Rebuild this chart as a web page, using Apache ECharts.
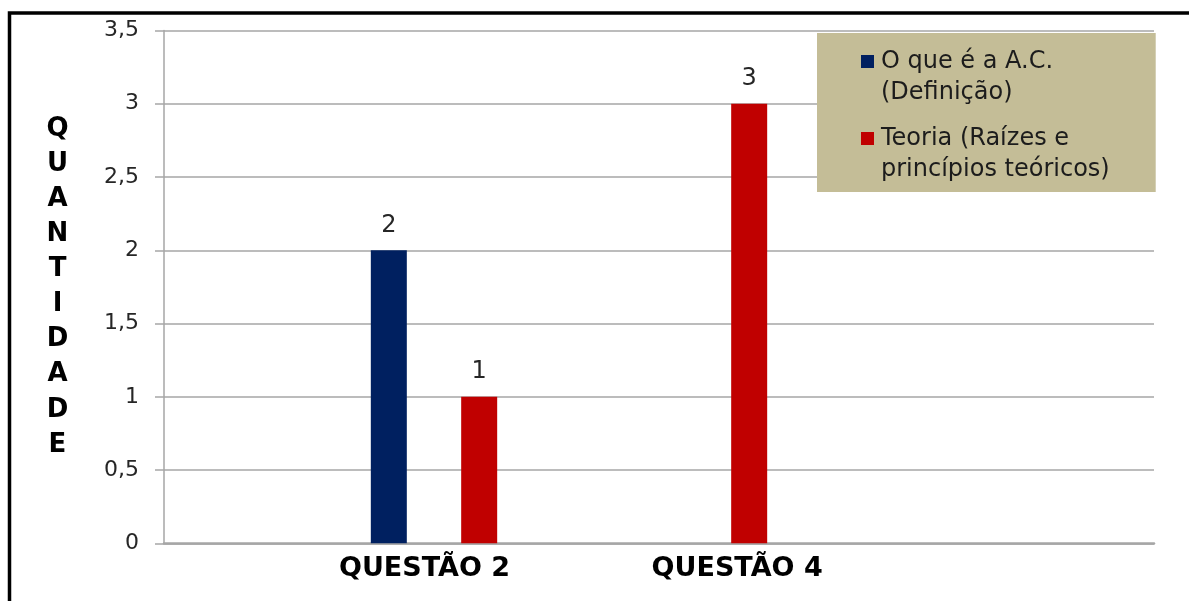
<!DOCTYPE html>
<html>
<head>
<meta charset="utf-8">
<script src="https://cdn.jsdelivr.net/npm/echarts@6/dist/echarts.min.js"></script>
<style>
  html, body { margin: 0; padding: 0; background: #ffffff; }
  #chart { width: 1189px; height: 601px; }
</style>
</head>
<body>
<div id="chart"></div>
<script>
// ---- data ----
const categories = ['QUESTÃO 2', 'QUESTÃO 4'];
const seriesNames = ['O que é a A.C. (Definição)', 'Teoria (Raízes e princípios teóricos)'];
const definicao = [2, null];   // no bar for QUESTÃO 4
const teoria = [1, 3];
const legendLines = [
  ['O que é a A.C.', '(Definição)'],
  ['Teoria (Raízes e', 'princípios teóricos)']
];
const axisTitle = 'QUANTIDADE';
const yMin = 0, yMax = 3.5, yStep = 0.5;

// ---- layout helpers: slot grids along the x axis ----
const BAR_SLOTS = 12;          // bar axis: slot positions of each category group
const BAR_AT = [3, 6];
const LABEL_SLOTS = 20;        // label axis: slot positions of each category label
const LABEL_AT = [5, 11];

const COLORS = ['#002060', '#c00000'];
const FONT = "'DejaVu Sans', 'Liberation Sans', Arial, sans-serif";
const GRID_COLOR = '#a6a6a6';

const barAxisData = Array.from({ length: BAR_SLOTS }, () => '');
const labelAxisData = Array.from({ length: LABEL_SLOTS }, (_, i) => {
  const k = LABEL_AT.indexOf(i);
  return k >= 0 ? categories[k] : '';
});

function toPairs(values) {
  return values.map((v, i) => [BAR_AT[i], v]);
}

const valueLabel = {
  show: true,
  position: 'top',
  distance: 13,
  fontFamily: FONT,
  fontSize: 24,
  color: '#262626',
  formatter: p => String(p.value[1]).replace('.', ',')
};

const richLegend = {
  t: { fontFamily: FONT, fontSize: 24, color: '#1c1c1c', lineHeight: 31, verticalAlign: 'middle' },
  g: { width: 7, height: 13, lineHeight: 31 },
  ind: { width: 20, height: 13, lineHeight: 31 },
  sq0: { width: 13, height: 13, backgroundColor: COLORS[0], verticalAlign: 'middle' },
  sq1: { width: 13, height: 13, backgroundColor: COLORS[1], verticalAlign: 'middle' }
};

const chart = echarts.init(document.getElementById('chart'), null, { renderer: 'canvas' });

chart.setOption({
  animation: false,
  backgroundColor: '#ffffff',
  grid: {
    left: 164, right: 35, top: 30.5, bottom: 57.7,
    containLabel: false,
    outerBoundsMode: 'none'
  },
  legend: {
    orient: 'vertical',
    left: 817,
    top: 33,
    itemWidth: 0,
    itemHeight: 0,
    itemGap: 15,
    padding: [13, 46, 7, 39],
    backgroundColor: '#c4bd97',
    selectedMode: false,
    data: seriesNames,
    formatter: name => {
      const k = seriesNames.indexOf(name);
      const [l1, l2] = legendLines[k];
      return `{sq${k}|}{g|}{t|${l1}}\n{ind|}{t|${l2}}`;
    },
    textStyle: { fontFamily: FONT, fontSize: 24, color: '#1c1c1c', lineHeight: 31, rich: richLegend }
  },
  xAxis: [
    {
      // bar placement axis
      type: 'category',
      position: 'top',
      data: barAxisData,
      boundaryGap: false,
      axisLine: { show: false },
      axisTick: { show: false },
      axisLabel: { show: false },
      splitLine: { show: false }
    },
    {
      // category label axis
      type: 'category',
      position: 'bottom',
      data: labelAxisData,
      boundaryGap: false,
      axisLine: { show: true, lineStyle: { color: GRID_COLOR, width: 2.5 } },
      axisTick: { show: false },
      splitLine: { show: false },
      axisLabel: {
        interval: 0,
        margin: 12,
        fontFamily: FONT,
        fontSize: 27,
        fontWeight: 'bold',
        color: '#000000'
      }
    }
  ],
  yAxis: {
    type: 'value',
    min: yMin,
    max: yMax,
    interval: yStep,
    name: axisTitle.split('').join('\n'),
    nameLocation: 'middle',
    nameRotate: 0,
    nameGap: 106.5,
    nameTextStyle: {
      fontFamily: FONT,
      fontSize: 26,
      fontWeight: 'bold',
      color: '#000000',
      lineHeight: 35.1,
      align: 'center',
      verticalAlign: 'middle',
      padding: [9, 0, 0, 0]
    },
    axisLine: { show: true, lineStyle: { color: GRID_COLOR, width: 1.5 } },
    axisTick: { show: true, length: 9, lineStyle: { color: GRID_COLOR, width: 1.5 } },
    splitLine: { show: true, lineStyle: { color: GRID_COLOR, width: 1.5 } },
    axisLabel: {
      margin: 25,
      fontFamily: FONT,
      fontSize: 22,
      color: '#262626',
      formatter: v => String(v).replace('.', ',')
    }
  },
  series: [
    {
      name: seriesNames[0],
      type: 'bar',
      xAxisIndex: 0,
      data: toPairs(definicao),
      barWidth: 36,
      barGap: '151%',
      itemStyle: { color: COLORS[0] },
      label: valueLabel
    },
    {
      name: seriesNames[1],
      type: 'bar',
      xAxisIndex: 0,
      data: toPairs(teoria),
      barWidth: 36,
      barGap: '151%',
      itemStyle: { color: COLORS[1] },
      label: valueLabel
    }
  ],
  graphic: [
    {
      // outer frame
      type: 'rect',
      silent: true,
      shape: { x: 9.5, y: 13, width: 1300, height: 700 },
      style: { fill: 'none', stroke: '#000000', lineWidth: 3.5 }
    }
  ]
});
</script>
</body>
</html>
